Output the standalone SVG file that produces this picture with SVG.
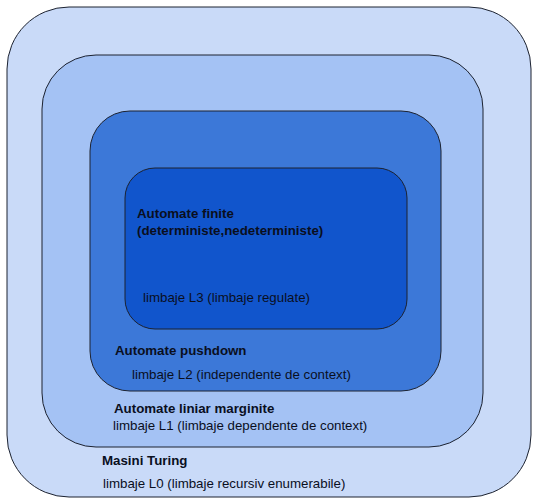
<svg xmlns="http://www.w3.org/2000/svg" width="534" height="498" viewBox="0 0 534 498">
<style>
.box{stroke:#1c2230;stroke-width:1}
.t{font-family:"Liberation Sans",Arial,sans-serif;font-size:13.3px;fill:#0a0f1e}
.b{font-weight:bold}
</style>
<rect width="534" height="498" fill="#ffffff"/>
<g id="turing">
<rect class="box" x="7" y="7" width="524" height="490" rx="62" ry="62" fill="#c9daf8" stroke-width="1.3"/>
<text class="t b" x="102" y="465">Masini Turing</text>
<text class="t" x="103" y="488">limbaje L0 (limbaje recursiv enumerabile)</text>
</g>
<g id="lba">
<rect class="box" x="42" y="55" width="441" height="392" rx="54" ry="54" fill="#a4c2f4"/>
<text class="t b" x="114" y="412.5">Automate liniar marginite</text>
<text class="t" x="113" y="430">limbaje L1 (limbaje dependente de context)</text>
</g>
<g id="pushdown">
<rect class="box" x="90" y="111" width="351" height="280" rx="40" ry="40" fill="#3c78d8"/>
<text class="t b" x="115" y="355">Automate pushdown</text>
<text class="t" x="132" y="379">limbaje L2 (independente de context)</text>
</g>
<g id="finite">
<rect class="box" x="125" y="168" width="282" height="161" rx="30" ry="30" fill="#1155cc"/>
<text class="t b" x="137" y="218">Automate finite</text>
<text class="t b" x="137" y="235">(deterministe,nedeterministe)</text>
<text class="t" x="143" y="302">limbaje L3 (limbaje regulate)</text>
</g>
<g id="connectors"/>
</svg>
